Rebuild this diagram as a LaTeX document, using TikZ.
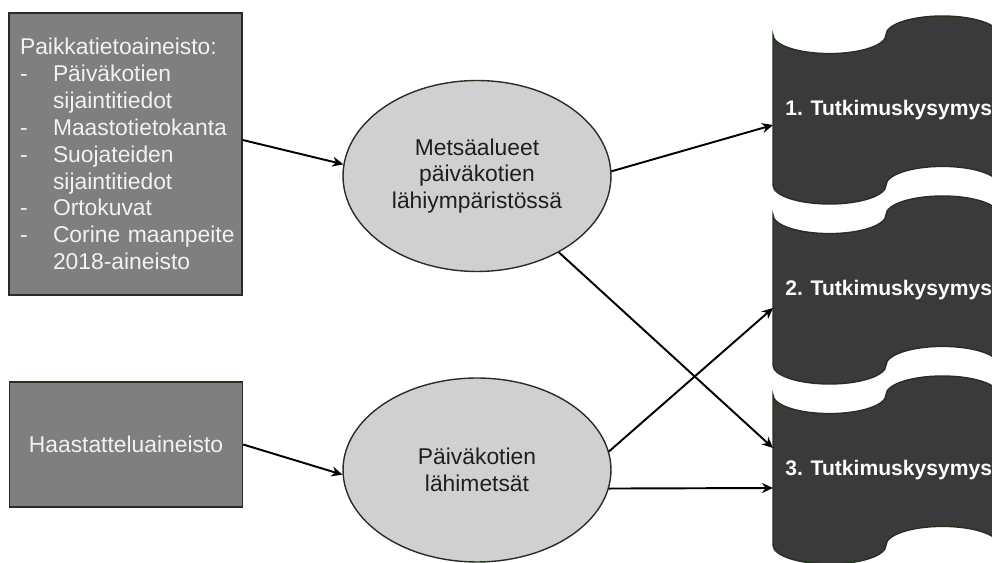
\documentclass[tikz,border=0pt]{standalone}
\usepackage{fontspec}
\setmainfont{Liberation Sans}
\usepackage{tikz}
\usetikzlibrary{shapes.geometric,arrows.meta}
\definecolor{boxgray}{HTML}{7F7F7F}
\definecolor{edgegreen}{HTML}{23321F}
\definecolor{ovalgray}{HTML}{D0D0D0}
\definecolor{tapegray}{HTML}{3A3A3A}

\begin{document}
\begin{tikzpicture}[
        x=0.02cm, y=-0.02cm,
        every node/.style={font=\fontsize{13}{15.3}\selectfont},
        block/.style={rectangle, draw=edgegreen, line width=0.8pt, fill=boxgray, text=white!95!black, minimum width=4.66cm, inner xsep=0.22cm},
        oval/.style={ellipse, draw=edgegreen, line width=0.8pt, fill=ovalgray, text=black!88, minimum width=5.36cm, inner sep=0pt, align=center},
        tape/.style={draw=edgegreen, line width=0.8pt, fill=tapegray},
        question/.style={font=\fontsize{12}{14}\selectfont\bfseries, text=white, anchor=west, inner sep=0pt},
        line/.style={-{Stealth[length=2.2mm,width=2mm]}, line width=1.1pt}
    ]
        \useasboundingbox (0,0) rectangle (992,563);

        % Aineistot
        \node[block, minimum height=5.64cm, text width=4.22cm, align=left] (paikka) at (125.5,154) {Paikkatietoaineisto:\\
            \makebox[0.66cm][l]{-}Päiväkotien\\
            \hspace*{0.66cm}sijaintitiedot\\
            \makebox[0.66cm][l]{-}Maastotietokanta\\
            \makebox[0.66cm][l]{-}Suojateiden\\
            \hspace*{0.66cm}sijaintitiedot\\
            \makebox[0.66cm][l]{-}Ortokuvat\\
            \makebox[0.66cm][l]{-}\mbox{Corine maanpeite}\\
            \hspace*{0.66cm}2018-aineisto};
        \node[block, minimum height=2.5cm, align=center] (haast) at (126,444.5) {Haastatteluaineisto};

        % Analyysit
        \node[oval, minimum height=3.82cm] (mets) at (477,176) {Metsäalueet\\päiväkotien\\lähiympäristössä};
        \node[oval, minimum height=3.68cm] (lahi) at (477,470) {Päiväkotien\\lähimetsät};

        % Tutkimuskysymykset
        \begin{scope}
            \clip (0,0) rectangle (992,563);
            \foreach \n/\t in {1/16, 2/196, 3/376} {
                \draw[tape] (773,\t+18.8) .. controls (773,\t+29.2) and (798.3,\t+37.6) .. (829.5,\t+37.6)
                    .. controls (860.7,\t+37.6) and (886,\t+29.2) .. (886,\t+18.8)
                    .. controls (886,\t+8.4) and (911.3,\t) .. (942.5,\t)
                    .. controls (973.7,\t) and (999,\t+8.4) .. (999,\t+18.8)
                    -- (999,\t+169.2)
                    .. controls (999,\t+158.8) and (973.7,\t+150.4) .. (942.5,\t+150.4)
                    .. controls (911.3,\t+150.4) and (886,\t+158.8) .. (886,\t+169.2)
                    .. controls (886,\t+179.6) and (860.7,\t+188) .. (829.5,\t+188)
                    .. controls (798.3,\t+188) and (773,\t+179.6) .. (773,\t+169.2)
                    -- cycle;
                \node[question] (q\n) at (785,\t+94) {\n. Tutkimuskysymys};
            }
        \end{scope}
        \coordinate (q1in) at (773,125);
        \coordinate (q2in) at (773,308);
        \coordinate (q3in) at (773,448);
        \coordinate (q3low) at (773,488);

        % Nuolet
        \draw[line] ([yshift=0.28cm]paikka.east) -- (mets.175);
        \draw[line] (haast.east) -- (lahi.182);
        \draw[line] (mets.2) -- (q1in);
        \draw[line] (mets.-43) -- (q3in);
        \draw[line] (lahi.8) -- (q2in);
        \draw[line] (lahi.-8) -- (q3low);

    \end{tikzpicture}
\end{document}
